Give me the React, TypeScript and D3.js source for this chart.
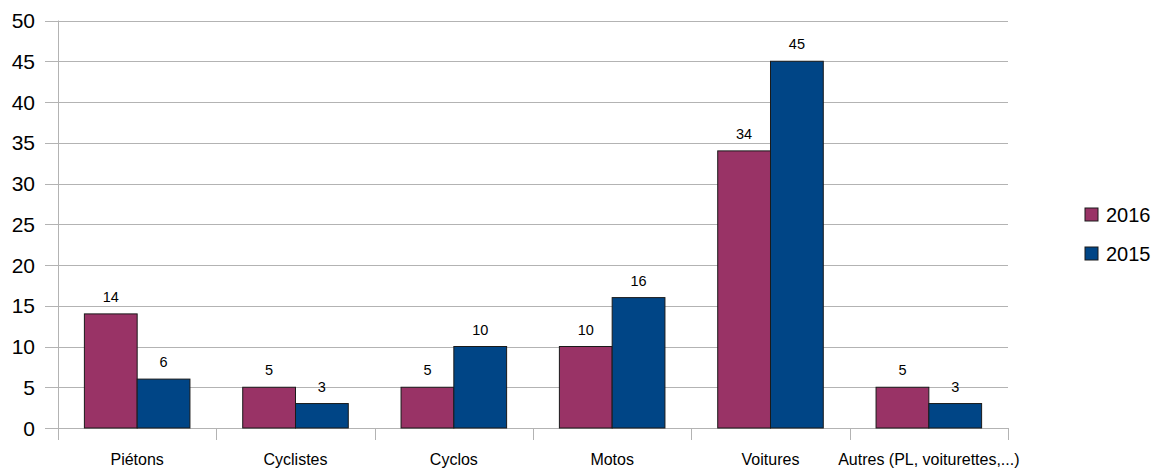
import React from "react";
import * as d3 from "d3";

const categories = ["Piétons", "Cyclistes", "Cyclos", "Motos", "Voitures", "Autres (PL, voiturettes,...)"];
const seriesNames = ["2016", "2015"];
const values2016 = [14, 5, 5, 10, 34, 5];
const values2015 = [6, 3, 10, 16, 45, 3];
const seriesColors = ["#993366", "#004586"];
const yTicks = [0, 5, 10, 15, 20, 25, 30, 35, 40, 45, 50];

const W = 1160;
const H = 468;
const left = 58;
const right = 1008;
const top = 20.5;
const bottom = 428;
const font = "'Liberation Sans', Arial, sans-serif";

export default function App() {
  const x = d3.scaleBand<string>().domain(categories).range([left, right]).paddingInner(0).paddingOuter(0);
  const inner = d3.scaleBand<string>().domain(seriesNames).range([x.bandwidth() / 6, (x.bandwidth() * 5) / 6]);
  const y = d3.scaleLinear().domain([0, 50]).range([bottom, top]);
  const series = [values2016, values2015];
  const tickXs = categories.map((c) => x(c) as number).concat([right]);

  return (
    <svg width={W} height={H} style={{ position: "absolute", left: 0, top: 0, background: "#fff" }} fontFamily={font}>
      {/* gridlines */}
      {yTicks.map((t) => (
        <g key={t}>
          <line x1={45} x2={right} y1={Math.round(y(t)) + 0.5} y2={Math.round(y(t)) + 0.5} stroke="#b3b3b3" strokeWidth={1} />
          <text x={35} y={y(t)} dy="0.36em" textAnchor="end" fontSize={21} fill="#000">{t}</text>
        </g>
      ))}
      {/* vertical axis */}
      <line x1={left + 0.5} x2={left + 0.5} y1={top} y2={bottom + 12} stroke="#b3b3b3" />
      {tickXs.map((tx, i) => (
        <line key={i} x1={Math.round(tx) + 0.5} x2={Math.round(tx) + 0.5} y1={bottom} y2={bottom + 12} stroke="#b3b3b3" />
      ))}
      {/* bars */}
      {categories.map((c, ci) => (
        <g key={c} transform={`translate(${x(c)},0)`}>
          {series.map((vals, si) => {
            const bx = inner(seriesNames[si]) as number;
            const bw = inner.bandwidth();
            return (
              <g key={si}>
                <rect x={bx} y={y(vals[ci])} width={bw} height={bottom - y(vals[ci])} fill={seriesColors[si]} stroke="#1a1a1a" strokeWidth={1} />
                <text x={bx + bw / 2} y={y(vals[ci]) - 12} textAnchor="middle" fontSize={14.5} fill="#000">{vals[ci]}</text>
              </g>
            );
          })}
          <text x={x.bandwidth() / 2} y={465} textAnchor="middle" fontSize={16} fill="#000">{c}</text>
        </g>
      ))}
      {/* legend */}
      {seriesNames.map((s, i) => (
        <g key={s} transform={`translate(1085,${208 + i * 39})`}>
          <rect x={0} y={0} width={13} height={13} fill={seriesColors[i]} stroke="#1a1a1a" strokeWidth={1} />
          <text x={21} y={7} dy="0.36em" fontSize={20} fill="#000">{s}</text>
        </g>
      ))}
    </svg>
  );
}
